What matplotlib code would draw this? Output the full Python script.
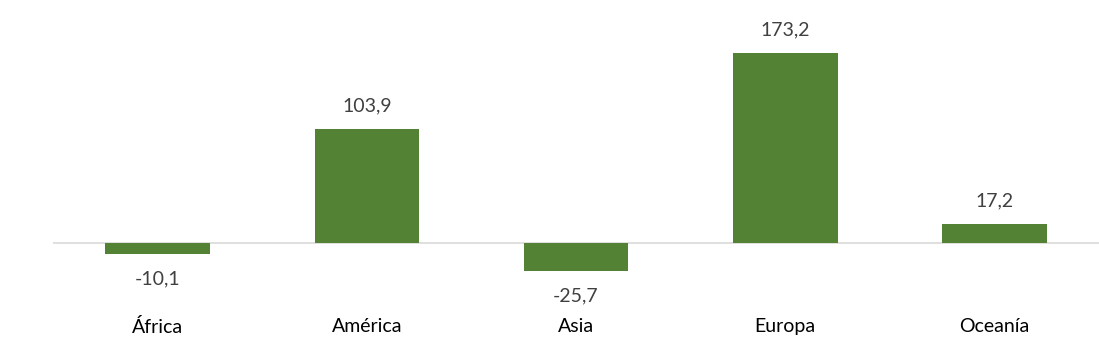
import matplotlib.pyplot as plt

categories = ["África", "América", "Asia", "Europa", "Oceanía"]
values = [-10.1, 103.9, -25.7, 173.2, 17.2]
value_labels = ["-10,1", "103,9", "-25,7", "173,2", "17,2"]

plt.rcParams['font.family'] = ['Lato', 'DejaVu Sans']

W, H = 1099, 343
fig = plt.figure(figsize=(W / 100, H / 100), dpi=100)
left, right = 53 / W, 1099 / W
top_px, bot_px = 20, 300
ax = fig.add_axes([left, 1 - bot_px / H, right - left, (bot_px - top_px) / H])

x = list(range(len(categories)))
ax.bar(x, values, width=0.5, color="#548235", zorder=3)
ax.axhline(0, color="#d9d9d9", lw=1.2, zorder=2)
ax.set_xlim(-0.5, len(categories) - 0.5)
ax.set_ylim(-52.0, 203.3)

for xi, v, lab in zip(x, values, value_labels):
    off = 17 if v >= 0 else -18
    ax.annotate(lab, (xi, v), xytext=(0, off), textcoords="offset points",
                ha="center", va="center", fontsize=14, color="#404040")

ax.set_xticks(x)
ax.set_xticklabels(categories, fontsize=14, color="#000000")
ax.tick_params(axis="x", length=0, pad=13)
ax.set_yticks([])
for s in ax.spines.values():
    s.set_visible(False)

fig.savefig("out.png", dpi=100)
